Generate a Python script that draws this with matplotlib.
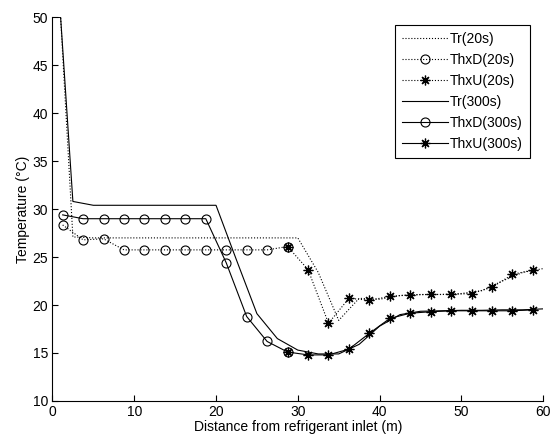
import matplotlib
matplotlib.use('Agg')
import matplotlib.pyplot as plt

# refrigerant temperature, evaluated at cell boundaries (m)
tr_x = [0, 1.0, 2.5, 5, 7.5, 10, 12.5, 15, 17.5, 20, 22.5, 25, 27.5, 30,
        32.5, 35, 37.5, 40, 42.5, 45, 47.5, 50, 52.5, 55, 57.5, 60]
tr_20s = [50, 50, 27.1, 27.0, 27.0, 27.0, 27.0, 27.0, 27.0, 27.0, 27.0, 27.0, 27.0, 27.0,
          23.4, 18.4, 20.7, 20.6, 21.0, 21.1, 21.1, 21.2, 21.5, 22.5, 23.4, 23.8]
tr_300s = [50, 50, 30.8, 30.4, 30.4, 30.4, 30.4, 30.4, 30.4, 30.4, 24.7, 19.1, 16.5, 15.3,
           14.9, 14.9, 15.9, 17.8, 19.0, 19.35, 19.4, 19.45, 19.45, 19.5, 19.5, 19.6]

# heat exchanger wall, downstream part (cell centres)
thxd_x = [1.25, 3.75, 6.25, 8.75, 11.25, 13.75, 16.25, 18.75, 21.25, 23.75, 26.25, 28.75]
thxd_20s = [28.35, 26.8, 26.9, 25.75, 25.75, 25.75, 25.75, 25.75, 25.75, 25.75, 25.75, 26.1]
thxd_300s = [29.4, 29.0, 29.0, 29.0, 29.0, 29.0, 29.0, 29.0, 24.4, 18.8, 16.2, 15.1]

# heat exchanger wall, upstream part (cell centres)
thxu_x = [28.75, 31.25, 33.75, 36.25, 38.75, 41.25, 43.75, 46.25, 48.75, 51.25, 53.75, 56.25, 58.75]
thxu_20s = [26.1, 23.7, 18.1, 20.7, 20.5, 20.9, 21.05, 21.1, 21.1, 21.2, 21.85, 23.2, 23.65]
thxu_300s = [15.1, 14.8, 14.8, 15.4, 17.05, 18.6, 19.15, 19.3, 19.4, 19.4, 19.4, 19.4, 19.5]

plt.rcParams['font.family'] = ['Liberation Sans', 'DejaVu Sans']
plt.rcParams['font.size'] = 10

fig = plt.figure(figsize=(5.52, 4.44), dpi=100)
ax = fig.add_axes([0.095, 0.097, 0.889, 0.864])

star = (8, 2, 0)
ms_o, ms_s = 6.5, 7
ax.plot(tr_x, tr_20s, color='k', linestyle=':', linewidth=0.8, label='Tr(20s)')
ax.plot(thxd_x, thxd_20s, color='k', linestyle=':', linewidth=0.8, marker='o',
        markersize=ms_o, markerfacecolor='none', markeredgewidth=0.8, label='ThxD(20s)')
ax.plot(thxu_x, thxu_20s, color='k', linestyle=':', linewidth=0.8, marker=star,
        markersize=ms_s, markeredgewidth=0.9, label='ThxU(20s)')
ax.plot(tr_x, tr_300s, color='k', linestyle='-', linewidth=0.8, label='Tr(300s)')
ax.plot(thxd_x, thxd_300s, color='k', linestyle='-', linewidth=0.8, marker='o',
        markersize=ms_o, markerfacecolor='none', markeredgewidth=0.8, label='ThxD(300s)')
ax.plot(thxu_x, thxu_300s, color='k', linestyle='-', linewidth=0.8, marker=star,
        markersize=ms_s, markeredgewidth=0.9, label='ThxU(300s)')

ax.set_xlim(0, 60)
ax.set_ylim(10, 50)
ax.set_xticks(range(0, 61, 10))
ax.set_yticks(range(10, 51, 5))
ax.tick_params(direction='in', length=4, width=0.8, top=False, right=False, pad=3,
               labelsize=10)
ax.spines['top'].set_visible(False)
ax.spines['right'].set_visible(False)
ax.spines['left'].set_linewidth(0.8)
ax.spines['bottom'].set_linewidth(0.8)

ax.set_xlabel('Distance from refrigerant inlet (m)', labelpad=1)
ax.set_ylabel('Temperature (°C)', labelpad=2)

leg = ax.legend(loc='upper left', bbox_to_anchor=(0.698, 0.98), borderaxespad=0,
                fancybox=False, edgecolor='k', framealpha=1, handlelength=3.3,
                handletextpad=0.15, borderpad=0.5, labelspacing=0.5, fontsize=10)
leg.get_frame().set_linewidth(0.8)

fig.savefig('out.png', dpi=100)
